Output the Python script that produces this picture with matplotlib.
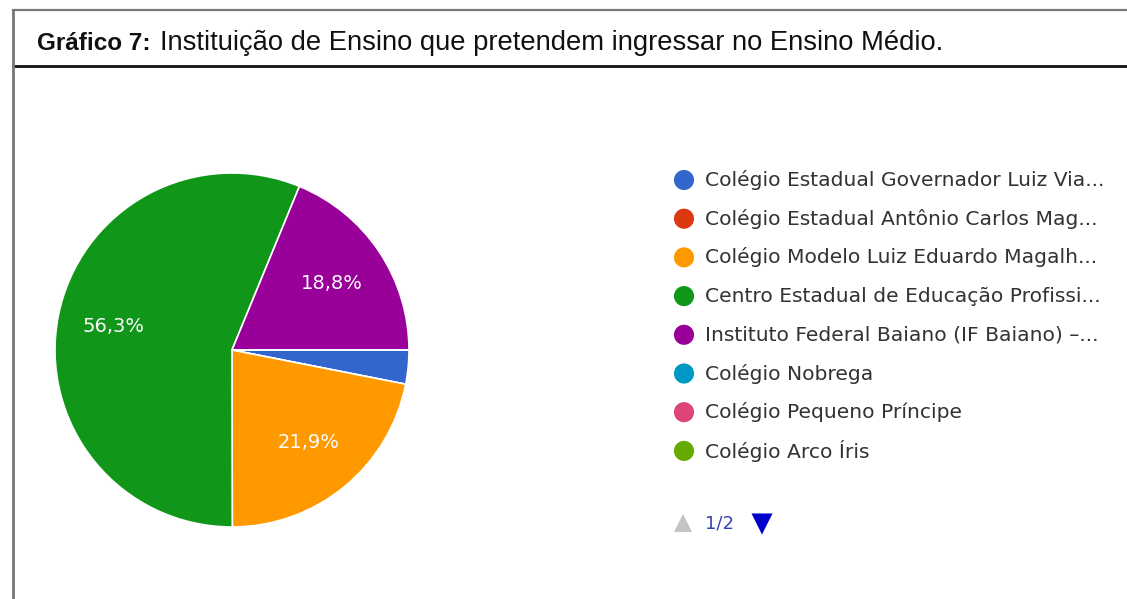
import matplotlib.pyplot as plt

# data
labels = [
    "Colégio Estadual Governador Luiz Via...",
    "Colégio Estadual Antônio Carlos Mag...",
    "Colégio Modelo Luiz Eduardo Magalh...",
    "Centro Estadual de Educação Profissi...",
    "Instituto Federal Baiano (IF Baiano) –...",
    "Colégio Nobrega",
    "Colégio Pequeno Príncipe",
    "Colégio Arco Íris",
]
shares = [3.1, 0.0, 21.9, 56.3, 18.8, 0.0, 0.0, 0.0]
colors = ["#3366cc", "#dc3912", "#ff9900", "#109618",
          "#990099", "#0099c6", "#dd4477", "#66aa00"]
title_bold = "Gráfico 7:"
title_rest = "Instituição de Ensino que pretendem ingressar no Ensino Médio."
page_text = "1/2"

W, H = 1127, 599

plt.rcParams["font.family"] = ["Liberation Sans", "DejaVu Sans"]

fig = plt.figure(figsize=(W / 100, H / 100), dpi=100)

# overlay in pixel coordinates for frame, title and legend
ov = fig.add_axes([0, 0, 1, 1])
ov.set_xlim(0, W)
ov.set_ylim(H, 0)
ov.axis("off")

ov.plot([13, W], [10, 10], color="#777777", lw=1.6)
ov.plot([13, W], [66, 66], color="#111111", lw=2.0)
ov.plot([13, 13], [10, H], color="#777777", lw=2.0)

ov.text(37, 43, title_bold, fontsize=17.5, fontweight="bold",
        va="center", ha="left", color="#111111")
ov.text(160, 43, title_rest, fontsize=19.7,
        va="center", ha="left", color="#111111")

# pie
ax = fig.add_axes([55 / W, 1 - 527 / H, 354 / W, 354 / H])
total = sum(shares)


def pct(p):
    v = p * total / 100
    return f"{v:.1f}%".replace(".", ",") if v > 5 else ""


ax.pie(shares, colors=colors, startangle=0, counterclock=False,
       autopct=pct, pctdistance=0.68,
       wedgeprops=dict(edgecolor="white", linewidth=1.2),
       textprops=dict(color="#fbfbfb", fontsize=14, family="DejaVu Sans"))
ax.set_xlim(-1, 1)
ax.set_ylim(-1, 1)
ax.set_aspect("equal")

# legend
y0, dy = 180, 38.7
for i, (lab, col) in enumerate(zip(labels, colors)):
    y = y0 + i * dy
    ov.scatter([684], [y], s=210, color=col, edgecolors="none")
    ov.text(705, y, lab, fontsize=14.6, family="DejaVu Sans",
            va="center", ha="left", color="#333333")

# pagination
yp = 523
ov.scatter([683], [yp], marker="^", s=170, color="#c4c4c4", edgecolors="none")
ov.text(705, yp, page_text, fontsize=13, family="DejaVu Sans",
        va="center", ha="left", color="#3344aa")
ov.scatter([762], [yp + 1], marker="v", s=230, color="#0000cc", edgecolors="none")

fig.savefig("out.png", dpi=100)
